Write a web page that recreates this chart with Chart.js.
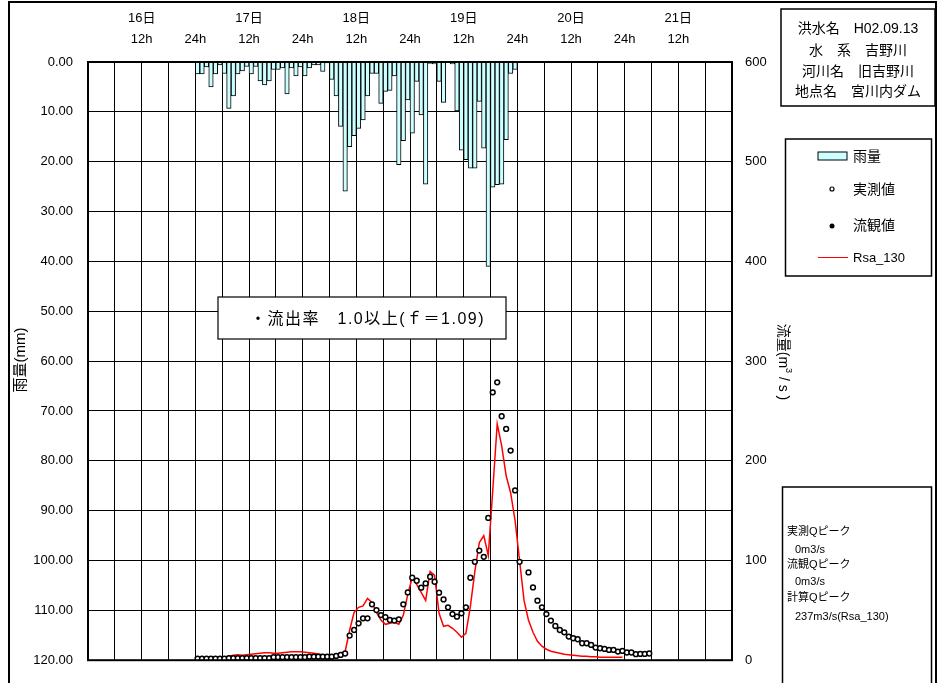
<!DOCTYPE html>
<html>
<head>
<meta charset="utf-8">
<script src="https://cdn.jsdelivr.net/npm/chart.js@4.4.1/dist/chart.umd.min.js"></script>
<style>
  html, body { margin: 0; padding: 0; background: #fff; }
  #wrap { width: 937px; height: 683px; }
</style>
</head>
<body>
<div id="wrap"><canvas id="hydroChart" width="937" height="683"></canvas></div>
<script>
// hour index counted from 16日 0h, one value per hour
const rainStart = 24;
const rainMm = [
  2.4, 2.4, 1.0, 5.0, 2.4, 0.6, 2.3, 9.3, 6.8, 2.4,
  1.8, 0.9, 2.4, 0.9, 3.8, 4.6, 3.8, 1.5, 1.5, 1.2,
  6.4, 1.2, 2.8, 1.0, 2.8, 1.2, 0.6, 0.6, 1.9, 0.2,
  3.5, 6.8, 12.9, 25.9, 17.0, 14.8, 13.3, 11.6, 6.8, 2.3,
  2.3, 8.3, 5.9, 5.7, 2.8, 20.6, 15.8, 7.6, 14.3, 3.9,
  10.6, 24.5, 0.3, 0.4, 3.9, 8.1, 0.0, 0.4, 9.8, 17.7,
  19.6, 21.3, 21.3, 7.9, 17.3, 41.0, 25.1, 24.6, 24.5, 15.6,
  2.3, 1.5
];

// null = no observation drawn for that hour
const obsStart = 24;
const obsFlow = [
  1.5, 1.5, 1.5, 1.5, 1.5, 1.5, 1.5, 2, 2, 2,
  2, 2, 2, 2, 2, 2, 2, 3, 3, 3,
  3, 3, 3, 3, 3, 3.5, 3.5, 3.5, 3.5, 3.5,
  3.5, 4.3, 5.3, 6.7, 24.7, 30.3, 37, 42, 42, 56,
  50.3, 45.3, 43.3, 40.3, 39.7, 41, 56, 68, 82.7, 79.7,
  72.7, 77, 83.7, 78.7, 67.7, 61, 53, 46.3, 43.7, 47,
  53, 82.7, 98.7, 110, 103.7, 142.7, 268.7, 278.7, 244.7, 232,
  210.3, 170.3, 98.7, null, 88, 73, 59.7, 53, 46.3, 39.7,
  34.3, 30.3, 28, 23.7, 22, 21, 17, 17, 15.3, 12.7,
  12, 11.3, 10.3, 10.3, 8.7, 9.3, 7.7, 7.7, 6, 6.3,
  6.3, 6.7
];

const calcStart = 24;
const calcFlow = [
  1.5, 1.5, 1.7, 2, 2.2, 2.5, 3, 4, 5, 5.5,
  5, 5.5, 6, 6.5, 7, 7.5, 7.5, 7, 7, 7.5,
  8, 8.5, 8.5, 8.5, 8, 7.5, 7, 6.3, 5.5, 4.5,
  3.7, 4, 5, 8.7, 30, 48, 53, 54.5, 62, 58,
  48, 40.3, 36, 37, 38, 36, 45, 66, 83, 76,
  68, 60, 89, 85, 47, 34, 35, 32, 28, 23,
  27, 54, 89, 118, 125, 105, 170, 237, 215, 185,
  168, 140, 100, 60, 40, 28, 19, 14, 11, 9,
  8, 7, 6, 5.5, 5, 4.5, 4, 4, 3.5, 3.5,
  3, 3, 3, 3, 3, 3
];

const dayNames = ['16日', '17日', '18日', '19日', '20日', '21日'];
const gridHours = Array.from({ length: 25 }, (_, i) => i * 6);

const fontFamily = '"Liberation Sans", "Noto Sans CJK JP", sans-serif';

const toPoints = (start, arr) => arr.map((v, i) => ({ x: start + i + 0.5, y: v }));

const decorPlugin = {
  id: 'decor',
  afterDraw(chart) {
    const { ctx, chartArea: a } = chart;
    ctx.save();
    ctx.strokeStyle = '#000';
    ctx.fillStyle = '#000';

    // plot frame
    ctx.lineWidth = 2;
    ctx.strokeRect(a.left, a.top, a.right - a.left, a.bottom - a.top);

    // outer frame
    ctx.lineWidth = 2;
    ctx.strokeRect(9, 2, 927, 690);

    // axis titles
    ctx.font = '15px ' + fontFamily;
    ctx.textBaseline = 'middle';
    ctx.textAlign = 'center';
    ctx.save();
    ctx.translate(21, 360);
    ctx.rotate(-Math.PI / 2);
    ctx.fillText('雨量(mm)', 0, 0);
    ctx.restore();

    ctx.save();
    ctx.translate(783, 362);
    ctx.rotate(Math.PI / 2);
    ctx.textAlign = 'left';
    const p1 = '流量(m', p2 = '3', p3 = ' / s )';
    ctx.font = '14px ' + fontFamily;
    const w1 = ctx.measureText(p1).width;
    const w3 = ctx.measureText(p3).width;
    ctx.font = '9px ' + fontFamily;
    const w2 = ctx.measureText(p2).width;
    const sx = -(w1 + w2 + w3) / 2;
    ctx.font = '14px ' + fontFamily;
    ctx.fillText(p1, sx, 0);
    ctx.font = '9px ' + fontFamily;
    ctx.fillText(p2, sx + w1, -5);
    ctx.font = '14px ' + fontFamily;
    ctx.fillText(p3, sx + w1 + w2, 0);
    ctx.restore();

    // flood info box
    ctx.lineWidth = 1.5;
    ctx.strokeRect(781, 9, 154, 97);
    ctx.font = '14px ' + fontFamily;
    ctx.textAlign = 'center';
    ctx.fillText('洪水名　H02.09.13', 858, 29);
    ctx.fillText('水　系　吉野川', 858, 51);
    ctx.fillText('河川名　旧吉野川', 858, 72);
    ctx.fillText('地点名　宮川内ダム', 858, 92);

    // legend box
    ctx.strokeRect(785.5, 139, 146, 137);
    ctx.fillStyle = '#CCFFFF';
    ctx.fillRect(818, 152, 29, 8);
    ctx.lineWidth = 1;
    ctx.strokeRect(818, 152, 29, 8);
    ctx.fillStyle = '#000';
    ctx.font = '14px ' + fontFamily;
    ctx.textAlign = 'left';
    ctx.fillText('雨量', 853, 157);
    ctx.fillText('実測値', 853, 190);
    ctx.fillText('流観値', 853, 226);
    ctx.font = '13px ' + fontFamily;
    ctx.fillText('Rsa_130', 853, 258);
    ctx.beginPath();
    ctx.arc(832, 189, 2, 0, Math.PI * 2);
    ctx.fillStyle = '#fff';
    ctx.fill();
    ctx.lineWidth = 1.2;
    ctx.stroke();
    ctx.fillStyle = '#000';
    ctx.beginPath();
    ctx.arc(832, 226, 2.5, 0, Math.PI * 2);
    ctx.fill();
    ctx.strokeStyle = '#FF0000';
    ctx.lineWidth = 1;
    ctx.beginPath();
    ctx.moveTo(818, 257.5);
    ctx.lineTo(848, 257.5);
    ctx.stroke();
    ctx.strokeStyle = '#000';

    // peak box
    ctx.lineWidth = 1.5;
    ctx.strokeRect(782.5, 487, 149, 210);
    ctx.font = '11px ' + fontFamily;
    ctx.fillText('実測Qピーク', 787, 532);
    ctx.fillText('0m3/s', 795, 550);
    ctx.fillText('流観Qピーク', 787, 565);
    ctx.fillText('0m3/s', 795, 582);
    ctx.fillText('計算Qピーク', 787, 598);
    ctx.fillText('237m3/s(Rsa_130)', 795, 617);

    // runoff ratio note
    ctx.fillStyle = '#fff';
    ctx.fillRect(218, 297, 288, 42);
    ctx.lineWidth = 1.2;
    ctx.strokeRect(218, 297, 288, 42);
    ctx.fillStyle = '#000';
    ctx.font = '16px ' + fontFamily;
    ctx.letterSpacing = '1.5px';
    ctx.fillText('・流出率　1.0以上(ｆ＝1.09)', 250, 320);
    ctx.letterSpacing = '0px';

    ctx.restore();
  }
};

new Chart(document.getElementById('hydroChart'), {
  data: {
    datasets: [
      {
        type: 'scatter',
        label: '実測値',
        data: toPoints(obsStart, obsFlow),
        yAxisID: 'y2',
        showLine: false,
        pointStyle: 'circle',
        pointRadius: 2.4,
        pointBorderWidth: 1.5,
        pointBorderColor: '#000',
        pointBackgroundColor: '#fff',
        order: 1
      },
      {
        type: 'line',
        label: 'Rsa_130',
        data: toPoints(calcStart, calcFlow),
        yAxisID: 'y2',
        borderColor: '#FF0000',
        borderWidth: 1.5,
        pointRadius: 0,
        tension: 0,
        fill: false,
        order: 2
      },
      {
        type: 'bar',
        label: '雨量',
        data: toPoints(rainStart, rainMm),
        yAxisID: 'y',
        backgroundColor: '#CCFFFF',
        borderColor: '#000',
        borderWidth: 1,
        barPercentage: 1,
        categoryPercentage: 1,
        order: 3
      }
    ]
  },
  options: {
    responsive: false,
    animation: false,
    layout: { padding: { left: 0, right: 0, top: 0, bottom: 21 } },
    plugins: { legend: { display: false }, tooltip: { enabled: false } },
    scales: {
      x: {
        type: 'linear',
        position: 'top',
        offset: false,
        min: 0,
        max: 144,
        afterBuildTicks: (s) => { s.ticks = gridHours.map((v) => ({ value: v })); },
        afterFit: (s) => { s.height = 62; },
        grid: { color: '#000', lineWidth: 1, drawTicks: false, offset: false },
        border: { display: false },
        ticks: {
          autoSkip: false,
          maxRotation: 0,
          padding: 12,
          color: '#000',
          font: { family: fontFamily, size: 13, lineHeight: 1.62 },
          callback: (v) => {
            if (v % 24 === 12) return [dayNames[Math.floor(v / 24)], '12h'];
            if (v % 24 === 0 && v > 0 && v < 144) return ['', '24h'];
            return '';
          }
        }
      },
      y: {
        type: 'linear',
        position: 'left',
        reverse: true,
        min: 0,
        max: 120,
        afterFit: (s) => { s.width = 88; },
        grid: { color: '#000', lineWidth: 1, drawTicks: false },
        border: { color: '#000', width: 2 },
        ticks: {
          stepSize: 10,
          padding: 15,
          color: '#000',
          font: { family: fontFamily, size: 13 },
          callback: (v) => v.toFixed(2)
        }
      },
      y2: {
        type: 'linear',
        position: 'right',
        min: 0,
        max: 600,
        afterFit: (s) => { s.width = 205; },
        grid: { display: false, drawTicks: false },
        border: { color: '#000', width: 2 },
        ticks: {
          stepSize: 100,
          padding: 13,
          color: '#000',
          font: { family: fontFamily, size: 13 }
        }
      }
    }
  },
  plugins: [decorPlugin]
});
</script>
</body>
</html>
